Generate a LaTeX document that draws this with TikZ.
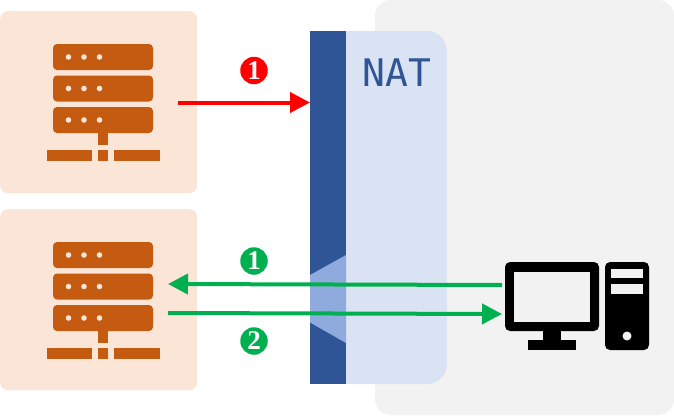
\documentclass[tikz,border=0pt]{standalone}
\usepackage{fontspec}
\setmonofont{DejaVu Sans Mono}
\setmainfont{Liberation Serif}
\definecolor{cardbg}{HTML}{FBE5D6}
\definecolor{srv}{HTML}{C55A11}
\definecolor{panel}{HTML}{F2F2F2}
\definecolor{natlight}{HTML}{DAE3F3}
\definecolor{natdark}{HTML}{2F5597}
\definecolor{natgap}{HTML}{8FAADC}
\definecolor{grn}{HTML}{00B050}
\tikzset{
  card/.style={fill=cardbg,rounded corners=8pt,draw=none,inner sep=0pt},
  badge/.style={circle,minimum size=27.5pt,inner sep=0pt,text=white,font=\bfseries\fontsize{27}{27}\selectfont},
  link/.style={line width=4pt,-{Triangle[length=20pt,width=20pt]}},
  server/.pic={
    \foreach \y in {44,75.5,107}{
      \fill[srv,rounded corners=4pt] (53,\y) rectangle (153,\y+26);
      \foreach \x in {68.5,84,99.5}{\fill[cardbg] (\x,\y+13) circle (2.8pt);}
    }
    \fill[srv] (98,133) rectangle (108,145);
    \fill[srv] (46.5,150) rectangle (92,161);
    \fill[srv] (98,150) rectangle (108,161);
    \fill[srv] (114,150) rectangle (160,161);
  }
}
\usetikzlibrary{arrows.meta}
\begin{document}
\begin{tikzpicture}[x=1pt,y=-1pt]
\useasboundingbox (0,0) rectangle (674,415);
% panel
\fill[panel,rounded corners=16pt] (375,0) -- (674,0) -- (674,415) -- (375,415) -- cycle;
% cards
\node[card,minimum width=197pt,minimum height=182pt,anchor=north west] (cardA) at (0,11) {};
\node[card,minimum width=197pt,minimum height=181pt,anchor=north west] (cardB) at (0,209) {};
\pic at (0,0) {server};
\pic at (0,198) {server};
% NAT
\fill[natlight,rounded corners=20pt] (330,31) -- (447,31) -- (447,384) -- (330,384) -- cycle;
\node[fill=natdark,minimum width=36pt,minimum height=353pt,inner sep=0pt,anchor=north west] (gate) at (310,31) {};
\fill[natgap] (310,275) -- (346,255) -- (346,343) -- (310,322.5) -- cycle;
\node[text=natdark,font=\ttfamily\fontsize{38}{38}\selectfont] (natlabel) at (397,73) {NAT};
% computer
\fill[black,rounded corners=5pt] (505,262) rectangle (599,331);
\fill[panel] (514,271.5) rectangle (590,321.5);
\fill[black] (543,330) rectangle (561,341);
\fill[black] (528,340) rectangle (575.5,350);
\fill[black,rounded corners=5pt] (605,262) rectangle (649,350);
\fill[panel] (611,268.5) rectangle (643,278);
\fill[panel] (611,284) rectangle (643,293.5);
\fill[panel] (627,336) circle (4.5pt);
% connector ends
\coordinate (r0) at (178,102.5);
\coordinate (r1) at (310,102.5);
\coordinate (g1a) at (502,285);
\coordinate (g1b) at (168,284);
\coordinate (g2a) at (168,313);
\coordinate (g2b) at (502,314);
\draw[link,red] (r0) -- (r1);
\draw[link,grn] (g1a) -- (g1b);
\draw[link,grn] (g2a) -- (g2b);
% badges
\node[badge,fill=red] (b1) at (254,70.5) {1};
\node[badge,fill=grn] (b2) at (254,261) {1};
\node[badge,fill=grn] (b3) at (254,341) {2};
\end{tikzpicture}
\end{document}
